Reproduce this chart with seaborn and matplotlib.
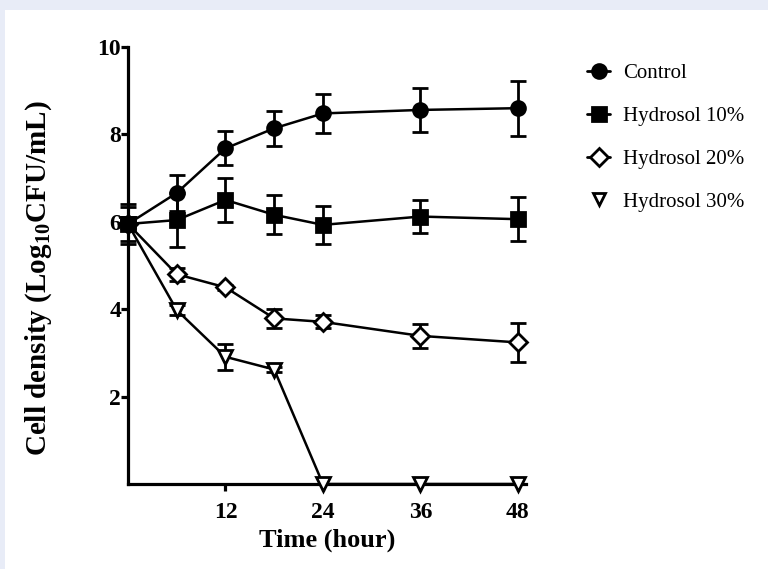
import numpy as np
import pandas as pd
import matplotlib
matplotlib.use("Agg")
import matplotlib.pyplot as plt
import seaborn as sns
from matplotlib.lines import Line2D
from matplotlib.patches import Rectangle

# data
time = [0, 6, 12, 18, 24, 36, 48]
control = [5.95, 6.66, 7.68, 8.14, 8.48, 8.56, 8.60]
control_sd = [0.45, 0.42, 0.39, 0.40, 0.44, 0.51, 0.63]
h10 = [5.95, 6.04, 6.50, 6.16, 5.93, 6.12, 6.06]
h10_sd = [0.40, 0.62, 0.50, 0.45, 0.43, 0.37, 0.50]
h20 = [5.95, 4.80, 4.50, 3.79, 3.71, 3.39, 3.24]
h20_sd = [0.10, 0.15, 0.05, 0.22, 0.15, 0.28, 0.45]
h30 = [5.95, 3.98, 2.91, 2.62, 0.0, 0.0, 0.0]
h30_sd = [0.10, 0.12, 0.30, 0.05, 0.0, 0.0, 0.0]

groups = ["Control", "Hydrosol 10%", "Hydrosol 20%", "Hydrosol 30%"]
means = [control, h10, h20, h30]
sds = [control_sd, h10_sd, h20_sd, h30_sd]

sns.set_style("ticks", {"text.color": "black", "axes.labelcolor": "black",
                        "xtick.color": "black", "ytick.color": "black",
                        "axes.edgecolor": "black"})
plt.rcParams['font.family'] = ['Liberation Serif', 'DejaVu Serif']
plt.rcParams['mathtext.fontset'] = 'custom'
plt.rcParams['mathtext.rm'] = 'Liberation Serif'
plt.rcParams['mathtext.bf'] = 'Liberation Serif:bold'

fig = plt.figure(figsize=(7.68, 5.69), dpi=100)
fig.patch.set_facecolor('#e8ecf7')
fig.patches.append(Rectangle((5 / 768, 0), 1, 1 - 10 / 569, transform=fig.transFigure,
                             facecolor='white', edgecolor='none', zorder=-1))
ax = fig.add_axes([128 / 768, 85 / 569, 398 / 768, 437 / 569])
ax.set_facecolor('white')

styles = {
    "Control": dict(marker='o', mfc='black', ms=10, z=7),
    "Hydrosol 10%": dict(marker='s', mfc='black', ms=10, z=8),
    "Hydrosol 20%": dict(marker='D', mfc='white', ms=9, z=5),
    "Hydrosol 30%": dict(marker='v', mfc='white', ms=10, z=4),
}

for g, m, s in zip(groups, means, sds):
    df = pd.DataFrame({"time": time, "value": m})
    st = styles[g]
    sns.lineplot(data=df, x="time", y="value", ax=ax, color='black', lw=1.8,
                 marker=st['marker'], markersize=st['ms'], markerfacecolor=st['mfc'],
                 markeredgecolor='black', markeredgewidth=2, clip_on=False, zorder=st['z'])
    ax.errorbar(time, m, yerr=s, fmt='none', ecolor='black', elinewidth=2,
                capsize=6, capthick=2, clip_on=False, zorder=3)

ax.set_xlim(0, 49)
ax.set_ylim(0, 10)
ax.set_xticks([12, 24, 36, 48])
ax.set_yticks([2, 4, 6, 8, 10])
sns.despine(ax=ax)
for sp in ['left', 'bottom']:
    ax.spines[sp].set_linewidth(2.3)
ax.tick_params(axis='both', length=5, width=2.3, labelsize=17, colors='black')
ax.tick_params(axis='x', pad=8)
ax.tick_params(axis='y', pad=0)
for lab in ax.get_xticklabels() + ax.get_yticklabels():
    lab.set_fontweight('bold')

ax.set_xlabel("Time (hour)", fontsize=19, fontweight='bold', labelpad=4)
ax.set_ylabel("Cell density (Log$_{\\mathbf{10}}$CFU/mL)", fontsize=21, fontweight='bold')
ax.yaxis.set_label_coords(-0.185, 0.47)

handles = [
    Line2D([], [], color='black', lw=2, marker='o', ms=10, mfc='black', mew=2),
    Line2D([], [], color='black', lw=2, marker='s', ms=10, mfc='black', mew=2),
    Line2D([], [], color='black', lw=2, marker='D', ms=9, mfc='white', mew=2),
    Line2D([], [], color='black', ls='none', marker='v', ms=8, mfc='white', mew=2),
]
fig.legend(handles, groups, loc='upper left', bbox_to_anchor=(577 / 768, 1 - 53 / 569),
           frameon=False, fontsize=15, handlelength=1.1, handletextpad=0.6,
           labelspacing=1.12, borderpad=0)

fig.savefig("out.png", dpi=100)
